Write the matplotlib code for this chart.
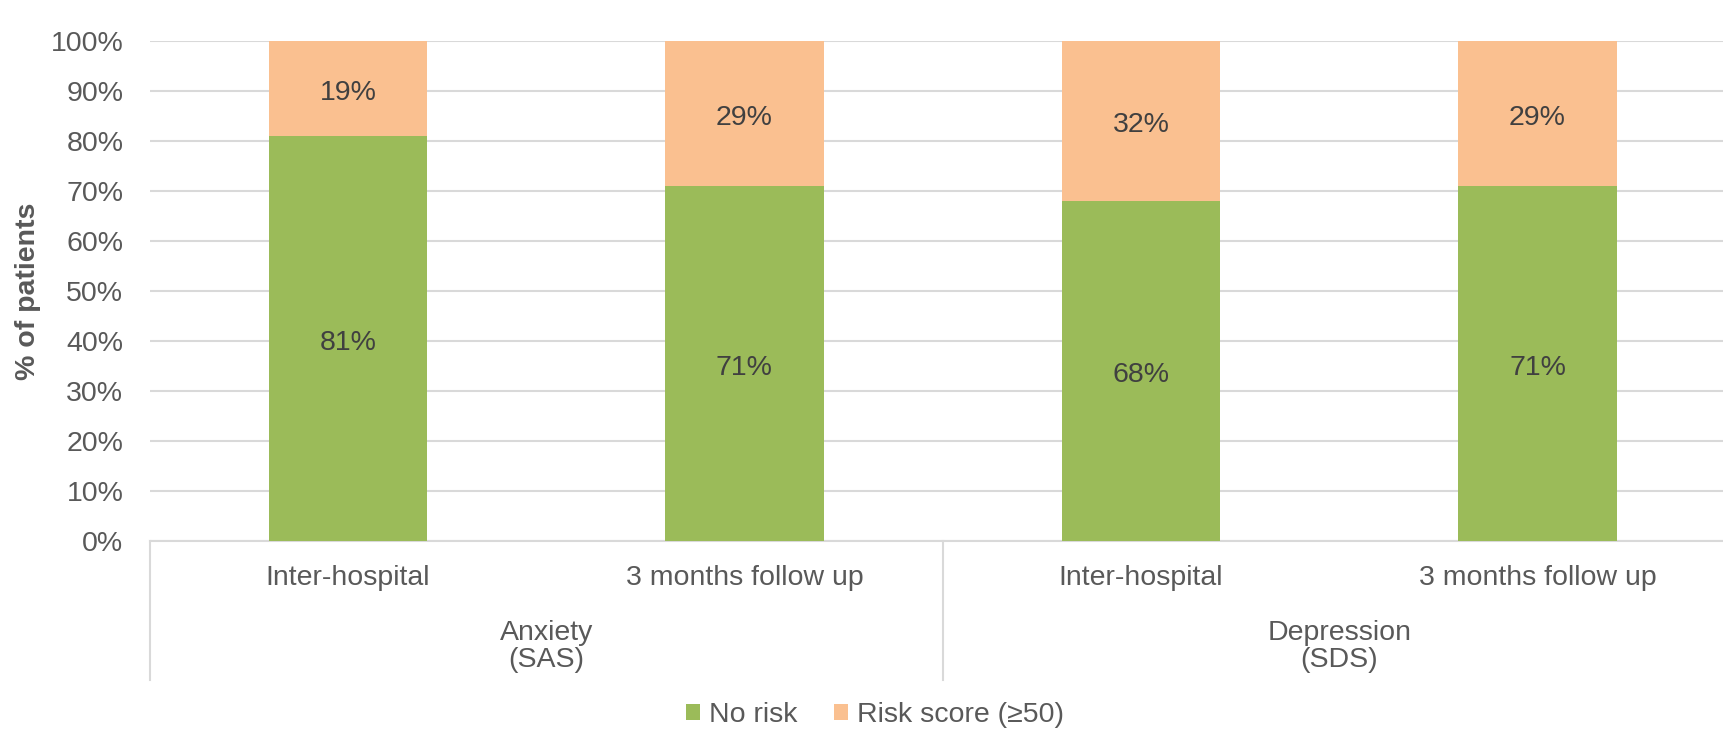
import numpy as np
import matplotlib
matplotlib.use("Agg")
import matplotlib.pyplot as plt
from matplotlib.transforms import blended_transform_factory
from matplotlib.lines import Line2D

plt.rcParams['font.family'] = ['Liberation Sans', 'DejaVu Sans']

# data
categorias = ['Inter-hospital', '3 months follow up', 'Inter-hospital', '3 months follow up']
grupos = ['Anxiety\n(SAS)', 'Depression\n(SDS)']
sin_riesgo = [81, 71, 68, 71]
con_riesgo = [19, 29, 32, 29]
series = ['No risk', 'Risk score (\u226550)']

verde = '#9BBB59'
naranja = '#FAC090'
gris_txt = '#595959'
gris_lin = '#D9D9D9'
fs = 20.5

fig = plt.figure(figsize=(17.24, 7.37), dpi=100)
ax = fig.add_axes([0.0868, 0.266, 0.920, 0.6784])

x = np.arange(len(categorias))
ancho = 0.40
b1 = ax.bar(x, sin_riesgo, ancho, color=verde, label=series[0], zorder=3)
b2 = ax.bar(x, con_riesgo, ancho, bottom=sin_riesgo, color=naranja, label=series[1], zorder=3)

# etiquetas de datos (un poco mas abajo, como en Excel)
for i in range(len(x)):
    ax.text(x[i], sin_riesgo[i] / 2 - 0.9, '%d%%' % sin_riesgo[i], ha='center', va='center',
            fontsize=fs, color='#404040', zorder=4)
    ax.text(x[i], sin_riesgo[i] + con_riesgo[i] / 2 - 0.9, '%d%%' % con_riesgo[i], ha='center',
            va='center', fontsize=fs, color='#404040', zorder=4)

ax.set_xlim(-0.5, 3.5)
ax.set_ylim(0, 100)
ax.set_yticks(range(0, 101, 10))
ax.set_yticklabels(['%d%%' % v for v in range(0, 101, 10)], fontsize=fs, color=gris_txt)
ax.tick_params(axis='y', length=0, pad=19)
ax.set_xticks([])
ax.yaxis.grid(True, color=gris_lin, linewidth=1.5, zorder=0)
ax.set_axisbelow(True)
for lado in ['top', 'right', 'left']:
    ax.spines[lado].set_visible(False)
ax.spines['bottom'].set_color(gris_lin)
ax.spines['bottom'].set_linewidth(1.5)

# ejes de categorias en dos niveles
tr = blended_transform_factory(ax.transData, ax.transAxes)
for i, c in enumerate(categorias):
    ax.text(x[i], -0.075, c, transform=tr, ha='center', va='center', fontsize=fs, color=gris_txt)
for j, g in enumerate(grupos):
    ax.text(2 * j + 0.5, -0.211, g, transform=tr, ha='center', va='center', fontsize=fs,
            color=gris_txt, linespacing=1.05)
for xs in [-0.5, 1.5, 3.5]:
    ax.add_line(Line2D([xs, xs], [0, -0.278], transform=tr, color=gris_lin, linewidth=1.5,
                       clip_on=False))

ax.set_ylabel('% of patients', fontsize=fs, fontweight='bold', color=gris_txt)
ax.yaxis.set_label_coords(-0.0685, 0.5)

fig.legend(loc='center', bbox_to_anchor=(0.5075, 0.030), ncol=2, frameon=False, fontsize=fs,
           handlelength=0.5, handleheight=0.5, handletextpad=0.3, columnspacing=1.3,
           labelcolor=gris_txt)

fig.savefig('out.png', dpi=100)
